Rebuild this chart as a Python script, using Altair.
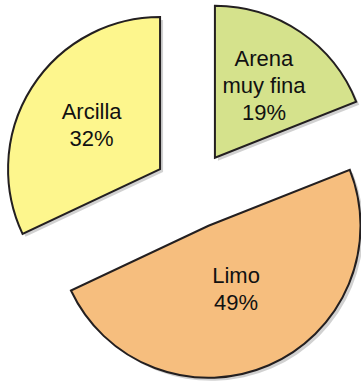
import altair as alt
import pandas as pd

categories = ["Arena muy fina", "Limo", "Arcilla"]
values = [19, 49, 32]
labels = ["Arena\nmuy fina\n19%", "Limo\n49%", "Arcilla\n32%"]
colors = ["#d5e28c", "#f6be7e", "#fdf68d"]

CX, CY = 193, 190
R = 152
EXPLODE = 39
LINE_H = 27

df = pd.DataFrame({"cat": categories, "value": values, "label": labels,
                   "idx": list(range(len(categories)))})

base = alt.Chart(df).transform_joinaggregate(
    total="sum(value)"
).transform_window(
    cum="sum(value)", sort=[alt.SortField("idx")], frame=[None, 0]
).transform_calculate(
    t0="(datum.cum - datum.value) / datum.total * 2 * PI",
    t1="datum.cum / datum.total * 2 * PI",
    nlines="length(split(datum.label, '\\n'))",
).transform_calculate(
    mid="(datum.t0 + datum.t1) / 2",
    span="datum.t1 - datum.t0",
).transform_calculate(
    cx=f"{CX} + {EXPLODE} * sin(datum.mid)",
    cy=f"{CY} - {EXPLODE} * cos(datum.mid)",
    lr=f"0.6 * (4 * {R} * sin(datum.span / 2) / (3 * datum.span)) + 30",
).transform_calculate(
    lx="datum.cx + datum.lr * sin(datum.mid)",
    ly=f"datum.cy - datum.lr * cos(datum.mid) - (datum.nlines - 1) * {LINE_H} / 2",
    sx="datum.cx + 3",
    sy="datum.cy + 3",
)

shadow = base.mark_arc(radius=R, fill="#000000", fillOpacity=0.18, strokeWidth=0).encode(
    theta=alt.Theta("t0:Q", scale=None),
    theta2="t1:Q",
    x=alt.X("sx:Q", scale=None),
    y=alt.Y("sy:Q", scale=None),
)

arcs = base.mark_arc(radius=R, stroke="#231f20", strokeWidth=2, strokeJoin="miter").encode(
    theta=alt.Theta("t0:Q", scale=None),
    theta2="t1:Q",
    x=alt.X("cx:Q", scale=None),
    y=alt.Y("cy:Q", scale=None),
    color=alt.Color("cat:N", scale=alt.Scale(domain=categories, range=colors), legend=None),
)

text = base.mark_text(
    font="Liberation Sans", fontSize=22, color="#111111", lineBreak="\n",
    lineHeight=LINE_H, align="center", baseline="middle",
).encode(
    x=alt.X("lx:Q", scale=None),
    y=alt.Y("ly:Q", scale=None),
    text="label:N",
)

chart = alt.layer(shadow, arcs, text).properties(
    width=361, height=382, padding=0, autosize="none", background="white"
).configure_view(strokeWidth=0)

chart.save("out.html", embed_options={"renderer": "svg", "actions": False})
